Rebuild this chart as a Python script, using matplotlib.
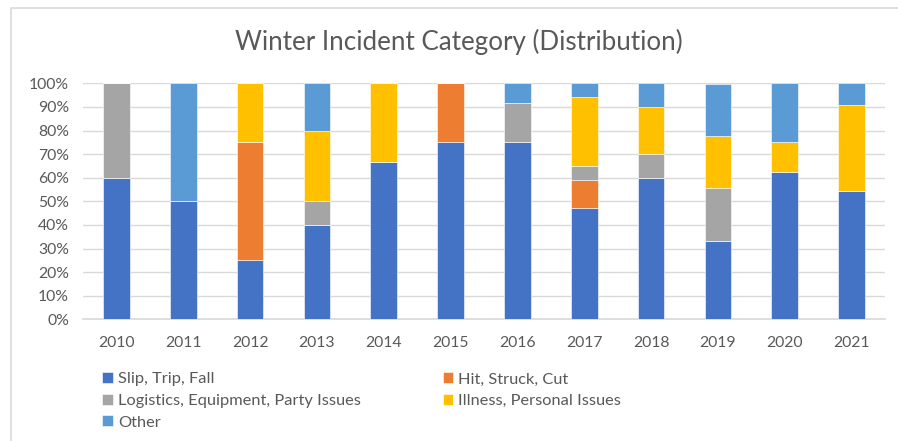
import matplotlib.pyplot as plt
from matplotlib.patches import Rectangle
from matplotlib.ticker import PercentFormatter
import numpy as np

plt.rcParams['font.family'] = ['Lato', 'DejaVu Sans']

# jaren en aandeel per categorie (fracties per jaar)
years = ['2010', '2011', '2012', '2013', '2014', '2015',
         '2016', '2017', '2018', '2019', '2020', '2021']
slip = [0.60, 0.50, 0.25, 0.40, 0.667, 0.75, 0.75, 0.471, 0.60, 0.333, 0.625, 0.545]
hit = [0, 0, 0.50, 0, 0, 0.25, 0, 0.118, 0, 0, 0, 0]
logistics = [0.40, 0, 0, 0.10, 0, 0, 0.167, 0.059, 0.10, 0.222, 0, 0]
illness = [0, 0, 0.25, 0.30, 0.333, 0, 0, 0.294, 0.20, 0.222, 0.125, 0.364]
other = [0, 0.50, 0, 0.20, 0, 0, 0.083, 0.059, 0.10, 0.222, 0.25, 0.091]

series = [
    ('Slip, Trip, Fall', slip, '#4472C4'),
    ('Hit, Struck, Cut', hit, '#ED7D31'),
    ('Logistics, Equipment, Party Issues', logistics, '#A5A5A5'),
    ('Illness, Personal Issues', illness, '#FFC000'),
    ('Other', other, '#5B9BD5'),
]

fig = plt.figure(figsize=(8.98, 4.41), dpi=100)
ax = fig.add_axes([83 / 898, 1 - 319.3 / 441, (885 - 83) / 898, (319.3 - 83.3) / 441])

# rand om de grafiek
fig.patches.append(Rectangle((11 / 898, -0.1), 1.0, 1 - 8 / 441 + 0.1,
                             transform=fig.transFigure, fill=False,
                             edgecolor='#D9D9D9', linewidth=1.2))

x = np.arange(len(years))
bottom = np.zeros(len(years))
bars = {}
for name, vals, col in series:
    vals = np.array(vals)
    bars[name] = ax.bar(x, vals, 0.4, bottom=bottom, color=col,
                        edgecolor='white', linewidth=0.4, label=name, zorder=3)
    bottom += vals

ax.set_xlim(-0.5, len(years) - 0.5)
ax.set_ylim(0, 1)
ax.set_yticks(np.arange(0, 1.01, 0.1))
ax.yaxis.set_major_formatter(PercentFormatter(1.0, decimals=0))
ax.set_xticks(x, years)
ax.grid(axis='y', color='#D9D9D9', linewidth=1, zorder=0)
for s in ['top', 'right', 'left']:
    ax.spines[s].set_visible(False)
ax.spines['bottom'].set_color('#D9D9D9')
ax.spines['bottom'].set_linewidth(1.2)
ax.tick_params(length=0, labelsize=11.3, labelcolor='#595959')
ax.tick_params(axis='x', pad=12)
ax.tick_params(axis='y', pad=10)

fig.text(459 / 898, 1 - 42 / 441, 'Winter Incident Category (Distribution)',
         ha='center', va='center', fontsize=18.7, color='#595959')

# legenda: rijen gevuld zoals in Excel
order = ['Slip, Trip, Fall', 'Logistics, Equipment, Party Issues', 'Other',
         'Hit, Struck, Cut', 'Illness, Personal Issues']
handles = [bars[n] for n in order]
leg = fig.legend(handles, order, ncol=2, loc='upper left',
                 bbox_to_anchor=(94 / 898, 1 - 364 / 441), frameon=False,
                 fontsize=11.8, labelcolor='#595959', handlelength=0.65,
                 handleheight=0.65, handletextpad=0.3, columnspacing=5.0,
                 labelspacing=0.45, borderpad=0)

fig.savefig('out.png', dpi=100)
